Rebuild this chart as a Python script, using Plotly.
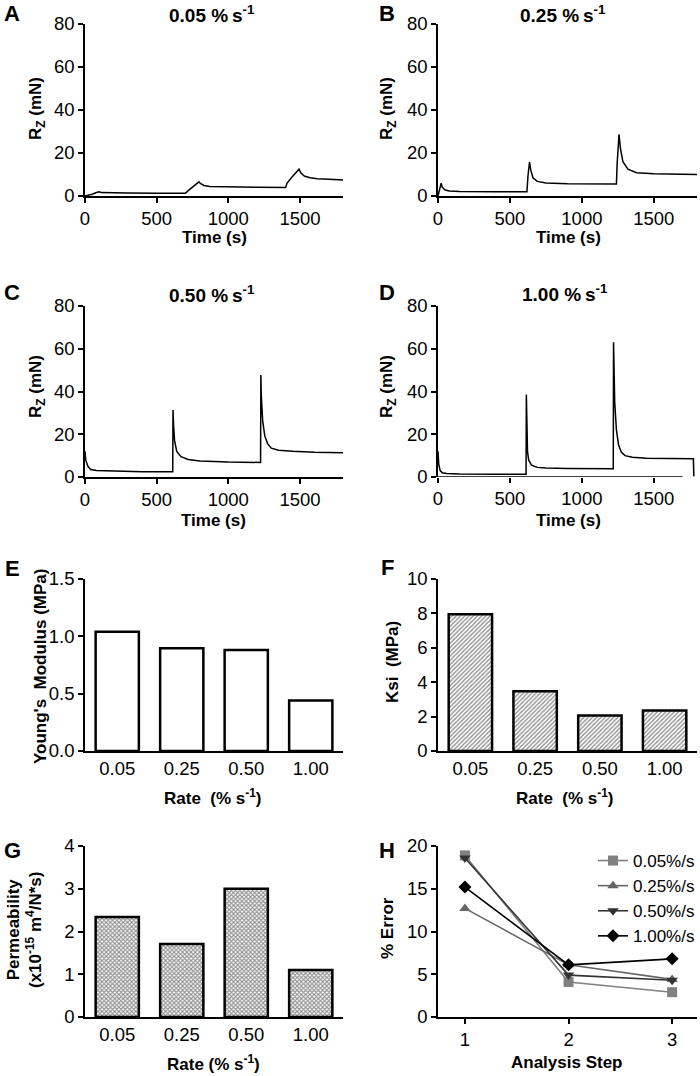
import plotly.graph_objects as go

W, H = 700, 1076
FONT = "Liberation Sans, Arial, sans-serif"

# ---- data ----
time_a = [0, 20, 50, 80, 100, 110, 150, 300, 500, 700, 720, 760, 795, 805, 830, 870, 1000, 1200, 1400,
          1410, 1440, 1470, 1493, 1505, 1530, 1570, 1620, 1700, 1800]
force_a = [0, 0.2, 0.8, 1.6, 2.0, 1.6, 1.5, 1.4, 1.3, 1.3, 2.5, 4.5, 6.6, 5.8, 4.9, 4.4, 4.2, 4.1, 4.0,
           6.0, 8.5, 10.5, 12.5, 10.8, 9.3, 8.5, 8.0, 7.8, 7.5]

time_b = [0, 10, 22, 30, 50, 80, 150, 400, 618, 625, 636, 645, 660, 690, 750, 900, 1240,
          1245, 1258, 1268, 1285, 1320, 1380, 1500, 1800]
force_b = [0, 2.5, 6.0, 4.0, 2.8, 2.3, 2.1, 2.0, 2.0, 9.0, 15.8, 12.0, 8.5, 6.8, 6.0, 5.7, 5.6,
           15.0, 28.7, 22.0, 16.0, 12.5, 10.8, 10.3, 10.0]

time_c = [0, 5, 20, 40, 80, 200, 400, 612, 614, 618, 625, 640, 670, 720, 800, 1000, 1225,
          1227, 1230, 1240, 1255, 1275, 1300, 1350, 1450, 1600, 1800]
force_c = [12, 8, 5, 3.5, 3.0, 2.7, 2.5, 2.5, 31.3, 24, 17, 12, 9.5, 8.2, 7.5, 7.0, 6.8,
           47.7, 38, 26, 19, 15.5, 13.5, 12.5, 12.0, 11.6, 11.4]

time_d = [0, 5, 15, 30, 60, 150, 400, 612, 614, 617, 622, 630, 650, 690, 750, 900, 1218,
          1220, 1223, 1228, 1240, 1255, 1275, 1300, 1350, 1450, 1600, 1775, 1778]
force_d = [12, 6, 3, 2, 1.6, 1.4, 1.3, 1.3, 38.6, 20, 12, 8, 5.5, 4.5, 4.2, 4.0, 3.9,
           63, 50, 35, 22, 15, 11.5, 10, 9.2, 8.8, 8.6, 8.5, 0.3]

rates = ["0.05", "0.25", "0.50", "1.00"]
youngs = [1.04, 0.895, 0.88, 0.44]
ksi = [7.95, 3.47, 2.06, 2.36]
perm = [2.34, 1.71, 3.00, 1.10]

steps = [1, 2, 3]
err_005 = [18.9, 4.1, 2.9]
err_025 = [12.7, 6.1, 4.4]
err_050 = [18.6, 4.9, 4.3]
err_100 = [15.2, 6.1, 6.8]


def px(x, y):
    return x / W, 1 - y / H


def dom_x(a, b):
    return [a / W, b / W]


def dom_y(top, bottom):
    return [1 - bottom / H, 1 - top / H]


def axis(domain, anchor, rng, **kw):
    d = dict(domain=domain, anchor=anchor, range=rng, showline=True, linecolor="black", linewidth=1.6,
             ticks="outside", ticklen=5, tickwidth=1.6, tickcolor="black", showgrid=False, zeroline=False,
             tickfont=dict(family=FONT, size=18.5, color="black"), fixedrange=True)
    d.update(kw)
    return d


def note(text, x, y, size, angle=0, **kw):
    px_, py_ = px(x, y)
    d = dict(text=text, x=px_, y=py_, xref="paper", yref="paper", showarrow=False, textangle=angle,
             font=dict(family=FONT, size=size, color="black"), xanchor="center", yanchor="middle")
    d.update(kw)
    return d


fig = go.Figure()

line = dict(color="black", width=1.5)
for i, (t, f) in enumerate([(time_a, force_a), (time_b, force_b), (time_c, force_c), (time_d, force_d)]):
    n = "" if i == 0 else str(i + 1)
    fig.add_trace(go.Scatter(x=t, y=f, mode="lines", line=line, xaxis="x" + n, yaxis="y" + n,
                             showlegend=False, hoverinfo="skip"))

bar_line = dict(color="black", width=2.5)
fig.add_trace(go.Bar(x=rates, y=youngs, xaxis="x5", yaxis="y5", width=0.67, showlegend=False,
                     marker=dict(color="white", line=bar_line)))
fig.add_trace(go.Bar(x=rates, y=ksi, xaxis="x6", yaxis="y6", width=0.67, showlegend=False,
                     marker=dict(color="white", line=bar_line,
                                 pattern=dict(shape="/", size=3, solidity=0.45, fgcolor="#222",
                                              bgcolor="white"))))
fig.add_trace(go.Bar(x=rates, y=perm, xaxis="x7", yaxis="y7", width=0.67, showlegend=False,
                     marker=dict(color="white", line=bar_line,
                                 pattern=dict(shape="x", size=3, solidity=0.6, fgcolor="#222",
                                              bgcolor="white"))))

series = [("0.05%/s", err_005, "#808080", "square"),
          ("0.25%/s", err_025, "#666666", "triangle-up"),
          ("0.50%/s", err_050, "#333333", "triangle-down"),
          ("1.00%/s", err_100, "#000000", "diamond")]
for name, vals, col, sym in series:
    fig.add_trace(go.Scatter(x=steps, y=vals, name=name, mode="lines+markers", xaxis="x8", yaxis="y8",
                             line=dict(color=col, width=1.6), marker=dict(symbol=sym, size=10, color=col)))

L = dom_x(85, 343)
R = dom_x(438, 697)
R1 = dom_y(24, 196)
R2 = dom_y(306, 477)
R3 = dom_y(579, 751)
R4 = dom_y(846, 1017)

tv_t = [0, 500, 1000, 1500]
tv_f = [0, 20, 40, 60, 80]
layout = dict(
    width=W, height=H, paper_bgcolor="white", plot_bgcolor="white",
    margin=dict(l=0, r=0, t=0, b=0, autoexpand=False),
    font=dict(family=FONT, color="black"),
    bargap=0.3,
    xaxis=axis(L, "y", [0, 1800], tickvals=tv_t),
    yaxis=axis(R1, "x", [0, 80], tickvals=tv_f),
    xaxis2=axis(R, "y2", [0, 1800], tickvals=tv_t),
    yaxis2=axis(R1, "x2", [0, 80], tickvals=tv_f),
    xaxis3=axis(L, "y3", [0, 1800], tickvals=tv_t),
    yaxis3=axis(R2, "x3", [0, 80], tickvals=tv_f),
    xaxis4=axis(R, "y4", [0, 1800], tickvals=tv_t, showline=False),
    yaxis4=axis(R2, "x4", [0, 80], tickvals=tv_f),
    xaxis5=axis(L, "y5", [-0.5, 3.5], type="category", ticks=""),
    yaxis5=axis(R3, "x5", [0, 1.5], tickvals=[0, 0.5, 1.0, 1.5], tickformat=".1f"),
    xaxis6=axis(R, "y6", [-0.5, 3.5], type="category", ticks=""),
    yaxis6=axis(R3, "x6", [0, 10], tickvals=[0, 2, 4, 6, 8, 10]),
    xaxis7=axis(L, "y7", [-0.5, 3.5], type="category", ticks=""),
    yaxis7=axis(R4, "x7", [0, 4], tickvals=[0, 1, 2, 3, 4]),
    xaxis8=axis(R, "y8", [0.74, 3.24], tickvals=steps),
    yaxis8=axis(R4, "x8", [0, 20], tickvals=[0, 5, 10, 15, 20]),
    legend=dict(x=1.0, y=1 - 843 / H, xanchor="right", yanchor="top", bgcolor="rgba(0,0,0,0)",
                font=dict(family=FONT, size=17, color="black"), tracegroupgap=0, itemwidth=30),
    shapes=[dict(type="line", xref="x4", yref="y4", x0=0, x1=1700, y0=0, y1=0,
                 line=dict(color="black", width=1.6))],
)

rate_sup = " %\u2009s<sup>-1</sup>"
ann = [
    note("<b>A</b>", 12, 14, 22), note("<b>B</b>", 387, 14, 22),
    note("<b>C</b>", 12, 292, 22), note("<b>D</b>", 387, 292, 22),
    note("<b>E</b>", 12, 568, 22), note("<b>F</b>", 387, 567, 22),
    note("<b>G</b>", 12, 850, 22), note("<b>H</b>", 387, 850, 22),
    note("<b>0.05" + rate_sup + "</b>", 212, 14, 19), note("<b>0.25" + rate_sup + "</b>", 563, 14, 19),
    note("<b>0.50" + rate_sup + "</b>", 212, 294, 19), note("<b>1.00" + rate_sup + "</b>", 565, 293, 19),
]
rz = "<b>R<sub>Z</sub> (mN)</b>"
for x, y in [(37, 109), (388, 109), (37, 387), (388, 387)]:
    ann.append(note(rz, x, y, 17, -90))
for x, y in [(214, 237), (568, 237), (213, 520), (568, 520)]:
    ann.append(note("<b>Time (s)</b>", x, y, 17))
ann += [
    note("<b>Young's  Modulus (MPa)</b>", 40, 667, 17, -90),
    note("<b>Ksi  (MPa)</b>", 392, 662, 17, -90),
    note("<b>Rate  (% s<sup>-1</sup>)</b>", 213, 797, 17),
    note("<b>Rate  (% s<sup>-1</sup>)</b>", 565, 797, 17),
    note("<b>Permeability<br>(x10<sup>-15</sup> m<sup>4</sup>/N*s)</b>", 24, 930, 17, -90),
    note("<b>Rate (% s<sup>-1</sup>)</b>", 213, 1063, 17),
    note("<b>% Error</b>", 387, 928, 17, -90),
    note("<b>Analysis Step</b>", 567, 1062, 17),
]
layout["annotations"] = ann

fig.update_layout(layout)
# page default body margin would shift the fixed-size figure; remove it
fig.write_html("out.html", config={"displayModeBar": False},
               post_script="document.body.style.margin='0';document.body.style.overflow='hidden';")
